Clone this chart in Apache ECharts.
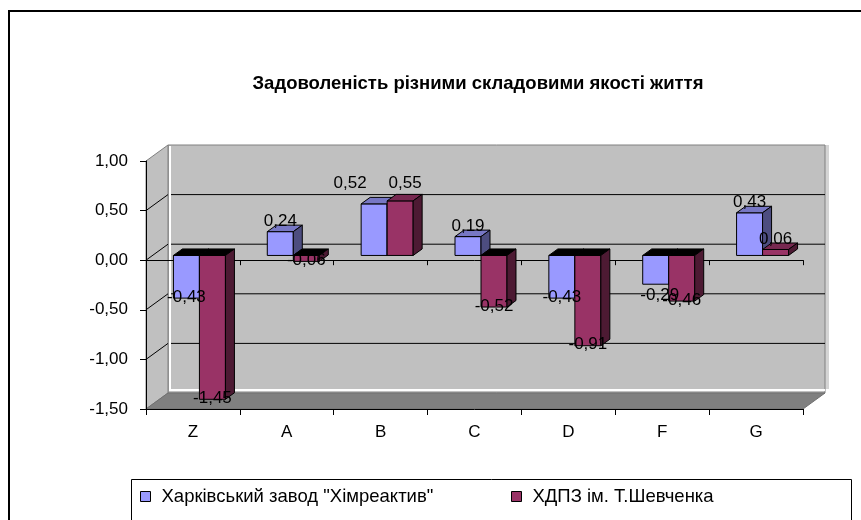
<!DOCTYPE html>
<html><head><meta charset="utf-8">
<script src="https://cdn.jsdelivr.net/npm/echarts@6/dist/echarts.min.js"></script>
<style>html,body{margin:0;padding:0;background:#fff}#c{width:861px;height:520px}</style>
</head><body><div id="c"></div>
<script>
const categories = ['Z', 'A', 'B', 'C', 'D', 'F', 'G'];
const seriesNames = ['Харківський завод "Хімреактив"', 'ХДПЗ ім. Т.Шевченка'];
const kharkivValues = [-0.43, 0.24, 0.52, 0.19, -0.43, -0.29, 0.43];
const khdpzValues = [-1.45, -0.06, 0.55, -0.52, -0.91, -0.46, 0.06];
const yTicks = [-1.5, -1.0, -0.5, 0, 0.5, 1.0];
const chartTitle = 'Задоволеність різними складовими якості життя';

const FONT = '"Liberation Sans", Arial, sans-serif';
const DX = 22, DY = -16;       // wall depth
const BDX = 9, BDY = -6.5;     // bar depth
const FDX = 6.5, FDY = -4.75;  // bar front offset
const BAR_FRAC = 0.277;
const palettes = [
  {face: '#9999FF', side: '#4d4d80', top: '#7777c4'},
  {face: '#993366', side: '#4d1a33', top: '#772850'}
];
const labelNudge = {'0-2': [-24, -11], '1-2': [5, -8], '0-5': [4, 12]};
const allValues = [kharkivValues, khdpzValues];
const fmt = v => v.toFixed(2).replace('.', ',');

function barGeom(api, si, idx, v) {
  const c = api.coord([idx, v]);
  const z0 = api.coord([idx, 0]);
  const band = api.size([1, 0])[0];
  const w = band * BAR_FRAC;
  const x0 = c[0] - (si === 0 ? w : 0) + FDX;
  const yv = c[1] + FDY, yz = z0[1] + FDY;
  return {x0, w, yv, yz, yTop: Math.min(yv, yz), yBot: Math.max(yv, yz)};
}

function makeBarRender(si) {
  return function (params, api) {
    const idx = api.value(0), v = api.value(1);
    const g = barGeom(api, si, idx, v);
    const p = palettes[si];
    const pos = v >= 0;
    const {x0, w, yTop, yBot} = g;
    return {type: 'group', children: [
      {type: 'rect', shape: {x: x0, y: yTop, width: w, height: yBot - yTop},
        style: {fill: p.face, stroke: '#000', lineWidth: 1}},
      {type: 'polygon', shape: {points: [[x0, yTop], [x0 + w, yTop], [x0 + w + BDX, yTop + BDY], [x0 + BDX, yTop + BDY]]},
        style: {fill: pos ? p.top : '#000', stroke: '#000', lineWidth: 1}},
      {type: 'polygon', shape: {points: [[x0 + w, yTop], [x0 + w + BDX, yTop + BDY], [x0 + w + BDX, yBot + BDY], [x0 + w, yBot]]},
        style: {fill: p.side, stroke: '#000', lineWidth: 1}}
    ]};
  };
}

function renderLabels(params, api) {
  const idx = api.value(0), v = api.value(1), si = api.value(2);
  const g = barGeom(api, si, idx, v);
  let x = g.x0 + g.w / 2;
  let y = v >= 0 ? g.yv - 10 : g.yv - 1;
  const n = labelNudge[si + '-' + idx];
  if (n) { x += n[0]; y += n[1]; }
  return {type: 'text', x: x, y: y,
    style: {text: fmt(v), fill: '#000', font: '17px ' + FONT, align: 'center', verticalAlign: 'middle'}};
}

function renderWalls(params, api) {
  const cs = params.coordSys;
  const L = cs.x, R = cs.x + cs.width;
  const yOf = v => api.coord([0, v])[1];
  const yMax = yOf(yTicks[yTicks.length - 1]), yMin = yOf(yTicks[0]);
  const ch = [];
  ch.push({type: 'rect', shape: {x: L + DX, y: yMax + DY, width: R - L + 4, height: yMin - yMax - 4},
    style: {fill: '#d4d4d4', stroke: null}});
  ch.push({type: 'rect', shape: {x: L + DX, y: yMax + DY, width: R - L, height: yMin - yMax},
    style: {fill: '#c0c0c0', stroke: '#808080', lineWidth: 1}});
  ch.push({type: 'polygon', shape: {points: [[L, yMax], [L + DX, yMax + DY], [L + DX, yMin + DY], [L, yMin]]},
    style: {fill: '#c0c0c0', stroke: '#808080', lineWidth: 1}});
  ch.push({type: 'polygon', shape: {points: [[L, yMin], [L + DX, yMin + DY], [R + DX, yMin + DY], [R, yMin]]},
    style: {fill: '#808080', stroke: '#707070', lineWidth: 1}});
  ch.push({type: 'polyline', shape: {points: [[L + DX + 2, yMax + DY + 1], [L + DX + 2, yMin + DY - 3], [R + DX, yMin + DY - 3]]},
    style: {stroke: '#fff', lineWidth: 2, fill: null}});
  yTicks.forEach(v => {
    if (v > yTicks[0] && v < yTicks[yTicks.length - 1]) {
      const y = yOf(v);
      ch.push({type: 'line', shape: {x1: L, y1: y, x2: L + DX, y2: y + DY}, style: {stroke: '#000', lineWidth: 1}});
      ch.push({type: 'line', shape: {x1: L + DX + 3, y1: y + DY, x2: R + DX, y2: y + DY}, style: {stroke: '#000', lineWidth: 1}});
    }
  });
  return {type: 'group', children: ch};
}

const labelData = [];
allValues.forEach((arr, si) => arr.forEach((v, i) => labelData.push([i, v, si])));

const legendCommon = {
  top: 487, itemWidth: 10, itemHeight: 10, icon: 'rect', padding: 0,
  itemStyle: {borderColor: '#000', borderWidth: 1},
  textStyle: {fontSize: 18.5, fontFamily: FONT, color: '#000', padding: [0, 0, 0, 6]}
};

const chart = echarts.init(document.getElementById('c'), null, {renderer: 'canvas'});
chart.setOption({
  animation: false,
  backgroundColor: '#fff',
  title: {text: chartTitle, left: 473, top: 69, textAlign: 'center',
    textStyle: {fontSize: 18.5, fontWeight: 'bold', fontFamily: FONT, color: '#000'}},
  legend: [
    Object.assign({data: [seriesNames[0]], left: 140}, legendCommon),
    Object.assign({data: [seriesNames[1]], left: 511}, legendCommon)
  ],
  grid: {left: 146, right: 58, top: 161, bottom: 111, containLabel: false},
  xAxis: [
    {type: 'category', data: categories, position: 'bottom',
      axisLine: {onZero: false, lineStyle: {color: '#000', width: 1}},
      axisTick: {show: true, length: 6, lineStyle: {color: '#000'}},
      axisLabel: {fontSize: 17, fontFamily: FONT, color: '#000', margin: 15},
      splitLine: {show: false}},
    {type: 'category', data: categories, position: 'bottom',
      axisLine: {onZero: true, lineStyle: {color: '#000', width: 1}},
      axisTick: {show: true, length: 5, lineStyle: {color: '#000'}},
      axisLabel: {show: false}, splitLine: {show: false}}
  ],
  yAxis: {type: 'value', min: yTicks[0], max: yTicks[yTicks.length - 1], interval: 0.5,
    axisLine: {show: true, lineStyle: {color: '#000'}},
    axisTick: {show: true, length: 6, lineStyle: {color: '#000'}},
    axisLabel: {formatter: v => fmt(v), fontSize: 17, fontFamily: FONT, color: '#000', margin: 18},
    splitLine: {show: false}},
  graphic: [
    {type: 'rect', shape: {x: 9, y: 11, width: 900, height: 600}, style: {fill: null, stroke: '#000', lineWidth: 2}, z: 100},
    {type: 'rect', shape: {x: 131.5, y: 479.5, width: 720, height: 100}, style: {fill: null, stroke: '#000', lineWidth: 1}, z: 100}
  ],
  series: [
    {type: 'custom', name: 'walls', z: -1, silent: true, clip: false, renderItem: renderWalls, data: [[0, 0]]},
    {type: 'custom', name: seriesNames[0], z: 2, clip: false, itemStyle: {color: palettes[0].face},
      renderItem: makeBarRender(0), data: kharkivValues.map((v, i) => [i, v])},
    {type: 'custom', name: seriesNames[1], z: 3, clip: false, itemStyle: {color: palettes[1].face},
      renderItem: makeBarRender(1), data: khdpzValues.map((v, i) => [i, v])},
    {type: 'custom', name: 'labels', z: 5, silent: true, clip: false, renderItem: renderLabels, data: labelData}
  ]
});
</script></body></html>
